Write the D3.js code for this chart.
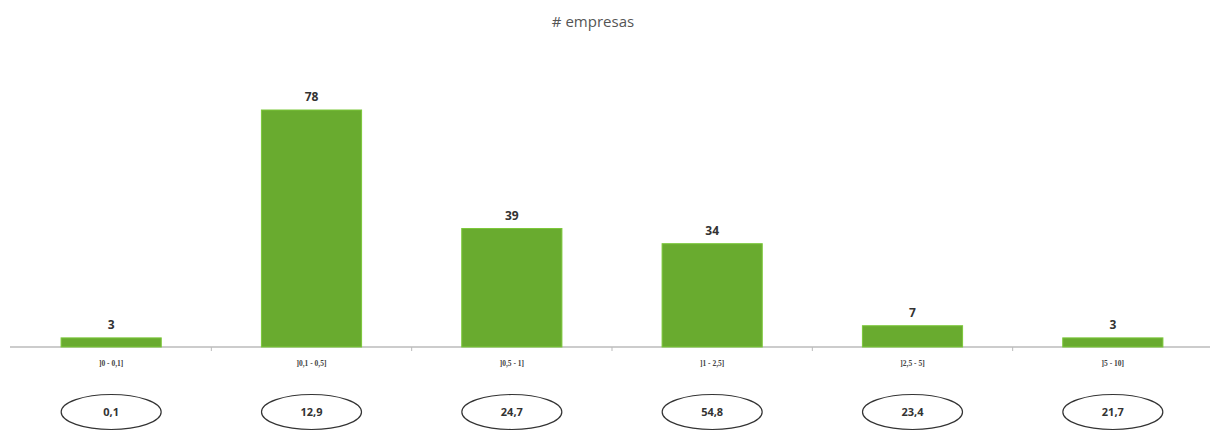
<!DOCTYPE html>
<html><head><meta charset="utf-8">
<script src="https://cdn.jsdelivr.net/npm/d3@7"></script>
<style>body{margin:0;background:#fff;}svg{display:block;}</style>
</head><body>
<svg id="c" width="1210" height="432"></svg>
<script>
const categories = ["]0 - 0,1]", "]0,1 - 0,5]", "]0,5 - 1]", "]1 - 2,5]", "]2,5 - 5]", "]5 - 10]"];
const empresas = [3, 78, 39, 34, 7, 3];
const ovalValues = ["0,1", "12,9", "24,7", "54,8", "23,4", "21,7"];
const title = "# empresas";

const svg = d3.select("#c");
const x = d3.scaleBand().domain(categories).range([11, 1213]).paddingInner(0.5).paddingOuter(0.25);
const y = d3.scaleLinear().domain([0, 78]).range([347, 110]);

svg.append("text").attr("x", 593).attr("y", 27).attr("text-anchor", "middle")
  .attr("font-family", "Open Sans, sans-serif").attr("font-size", 15).attr("fill", "#555")
  .text(title);

const ax = svg.append("g").attr("transform", "translate(0,347)")
  .call(d3.axisBottom(x).tickSize(0).tickPadding(14));
ax.select(".domain").attr("stroke", "#999").attr("d", "M10,0H1210");
ax.selectAll(".tick text").attr("font-family", "Liberation Serif, serif").attr("font-size", 7.5)
  .attr("font-weight", "bold").attr("fill", "#444");

svg.selectAll("line.bt").data(categories.slice(1)).join("line")
  .attr("x1", c => x(c) - (x.step() - x.bandwidth()) / 2)
  .attr("x2", c => x(c) - (x.step() - x.bandwidth()) / 2)
  .attr("y1", 347).attr("y2", 351).attr("stroke", "#bbb");

svg.selectAll("rect.bar").data(categories).join("rect")
  .attr("x", c => x(c)).attr("width", x.bandwidth())
  .attr("y", (c, i) => y(empresas[i])).attr("height", (c, i) => 347 - y(empresas[i]))
  .attr("fill", "#69ab2f").attr("stroke", "#7cc83a").attr("stroke-width", 1);

svg.selectAll("text.val").data(categories).join("text")
  .attr("x", c => x(c) + x.bandwidth() / 2).attr("y", (c, i) => y(empresas[i]) - 9)
  .attr("text-anchor", "middle").attr("font-family", "Open Sans, sans-serif")
  .attr("font-weight", "bold").attr("font-size", 12).attr("fill", "#333")
  .text((c, i) => empresas[i]);

svg.selectAll("ellipse.ov").data(categories).join("ellipse")
  .attr("cx", c => x(c) + x.bandwidth() / 2).attr("cy", 412)
  .attr("rx", 50).attr("ry", 17.5).attr("fill", "#fff").attr("stroke", "#333").attr("stroke-width", 1.2);

svg.selectAll("text.ov").data(categories).join("text")
  .attr("x", c => x(c) + x.bandwidth() / 2).attr("y", 416)
  .attr("text-anchor", "middle").attr("font-family", "Open Sans, sans-serif")
  .attr("font-weight", "bold").attr("font-size", 11).attr("fill", "#333")
  .text((c, i) => ovalValues[i]);
</script>
</body></html>
